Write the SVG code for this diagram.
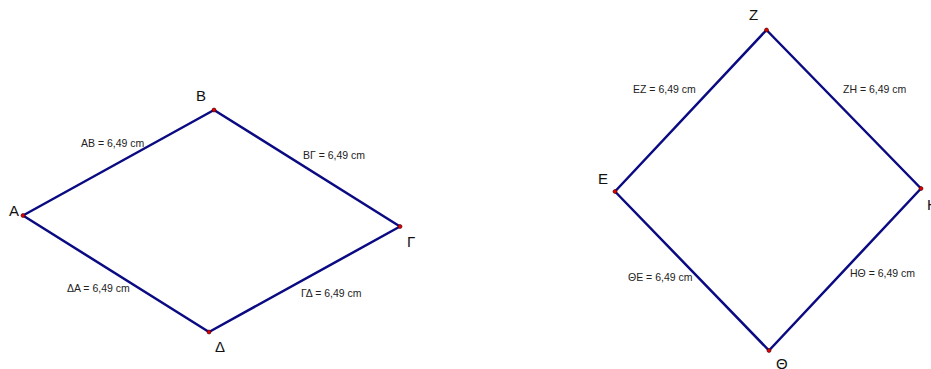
<svg xmlns="http://www.w3.org/2000/svg" width="931" height="369" viewBox="0 0 931 369">
<style>
.seg{stroke:#0a0a82;stroke-width:2.5;fill:none;stroke-linecap:round}
.pt{fill:#e00000;stroke:#400000;stroke-width:0.6}
.vl{font-family:"Liberation Sans",Arial,sans-serif;font-size:15px;fill:#111}
.ml{font-family:"Liberation Sans",Arial,sans-serif;font-size:10.5px;fill:#222}
</style>
<rect width="931" height="369" fill="#fff"/>
<g id="connectors">
<line class="seg" x1="23" y1="215.5" x2="214" y2="110"/>
<line class="seg" x1="214" y1="110" x2="400" y2="226.5"/>
<line class="seg" x1="400" y1="226.5" x2="209" y2="332"/>
<line class="seg" x1="209" y1="332" x2="23" y2="215.5"/>
<line class="seg" x1="615" y1="191.5" x2="766.5" y2="30"/>
<line class="seg" x1="766.5" y1="30" x2="921" y2="188.5"/>
<line class="seg" x1="921" y1="188.5" x2="769" y2="350.5"/>
<line class="seg" x1="769" y1="350.5" x2="615" y2="191.5"/>
</g>
<g id="labels">
<text class="ml" x="81" y="147">AB = 6,49 cm</text>
<text class="ml" x="303" y="159">BΓ = 6,49 cm</text>
<text class="ml" x="301" y="297">ΓΔ = 6,49 cm</text>
<text class="ml" x="67" y="292">ΔA = 6,49 cm</text>
<text class="ml" x="633" y="93">EZ = 6,49 cm</text>
<text class="ml" x="843" y="93">ZH = 6,49 cm</text>
<text class="ml" x="628" y="281">ΘE = 6,49 cm</text>
<text class="ml" x="850" y="277">HΘ = 6,49 cm</text>
</g>
<g id="A"><circle class="pt" cx="23" cy="215.5" r="2"/><text class="vl" x="9" y="216">A</text></g>
<g id="B"><circle class="pt" cx="214" cy="110" r="2"/><text class="vl" x="196" y="101">B</text></g>
<g id="Gamma"><circle class="pt" cx="400" cy="226.5" r="2"/><text class="vl" x="407" y="247">Γ</text></g>
<g id="Delta"><circle class="pt" cx="209" cy="332" r="2"/><text class="vl" x="215" y="352">Δ</text></g>
<g id="Z"><circle class="pt" cx="766.5" cy="30" r="2"/><text class="vl" x="749" y="20">Z</text></g>
<g id="E"><circle class="pt" cx="615" cy="191.5" r="2"/><text class="vl" x="598" y="184">E</text></g>
<g id="H"><circle class="pt" cx="921" cy="188.5" r="2"/><text class="vl" x="927" y="210">H</text></g>
<g id="Theta"><circle class="pt" cx="769" cy="350.5" r="2"/><text class="vl" x="776" y="369">Θ</text></g>
</svg>
